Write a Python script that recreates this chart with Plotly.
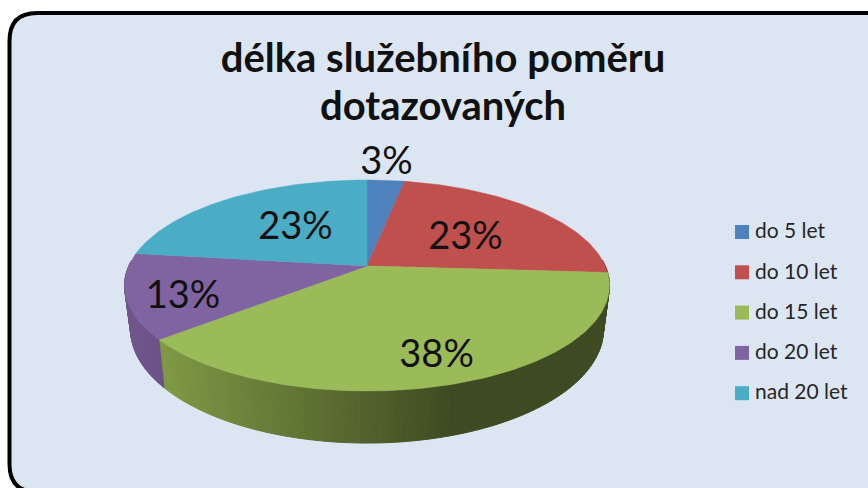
import math
import plotly.graph_objects as go

title_lines = ["délka služebního poměru", "dotazovaných"]
categories = ["do 5 let", "do 10 let", "do 15 let", "do 20 let", "nad 20 let"]
values = [3, 23, 38, 13, 23]
colors = ["#4F81BD", "#C0504D", "#9BBB59", "#8064A2", "#4BACC6"]
label_radius = [1.3, 0.58, 0.76, 0.78, 0.52]
label_nudge = [(-4, 5), (-4, 7), (5, 6), (2, 9), (5, 1)]

# projection of the tilted pie onto the canvas
CX, CY, A, B, K, DEPTH, RIM = 367, 266, 238.3, 101.9, 0.185, 42.4, 0.975
W, H = 868, 488
# key layout
KEY_X, KEY_TOP, KEY_STEP = 742, 232, 40.3


def project(frac, r=1.0, drop=False):
    t = 2 * math.pi * frac
    u, v = r * math.sin(t), -r * math.cos(t)
    w = 1 - K * v
    a = A * RIM if drop else A
    return CX + a * u / w, CY + B * v / w + (DEPTH / w if drop else 0)


def mix(c1, c2, f):
    f = max(0, min(1, f))
    return "rgb(%d,%d,%d)" % tuple(round(a + (b - a) * f) for a, b in zip(c1, c2))


def side_color(i, x):
    if i == 2:
        return mix((126, 152, 68), (62, 74, 34), (x - 165) / 290)
    if i == 3:
        return mix((112, 86, 140), (106, 80, 132), (x - 125) / 40)
    return "rgb(90,50,50)"


fig = go.Figure()
total = sum(values)
edges = [0]
for val in values:
    edges.append(edges[-1] + val / total)

# side walls, only the front half shows
for i in range(len(values)):
    n = max(2, int((edges[i + 1] - edges[i]) * 260))
    for j in range(n):
        f1 = edges[i] + (edges[i + 1] - edges[i]) * j / n
        f2 = edges[i] + (edges[i + 1] - edges[i]) * (j + 1) / n
        if math.cos(2 * math.pi * f1) > 0.05 and math.cos(2 * math.pi * f2) > 0.05:
            continue
        p = [project(f1), project(f2), project(f2, drop=True), project(f1, drop=True)]
        col = side_color(i, (p[0][0] + p[1][0]) / 2)
        fig.add_trace(go.Scatter(
            x=[q[0] for q in p] + [p[0][0]], y=[q[1] for q in p] + [p[0][1]],
            mode="lines", fill="toself", fillcolor=col, line=dict(color=col, width=1),
            showlegend=False, hoverinfo="skip"))

# top faces
for i in range(len(values)):
    n = max(12, int((edges[i + 1] - edges[i]) * 360))
    pts = [project(edges[i] + (edges[i + 1] - edges[i]) * j / n) for j in range(n + 1)]
    xs = [CX] + [q[0] for q in pts] + [CX]
    ys = [CY] + [q[1] for q in pts] + [CY]
    fig.add_trace(go.Scatter(
        x=xs, y=ys, mode="lines", fill="toself", fillcolor=colors[i],
        line=dict(color=colors[i], width=0.5), showlegend=False, hoverinfo="skip"))

# percentage labels
lx, ly, lt = [], [], []
for i, val in enumerate(values):
    x, y = project((edges[i] + edges[i + 1]) / 2, label_radius[i])
    lx.append(x + label_nudge[i][0]); ly.append(y + label_nudge[i][1]); lt.append(f"{val}%")
fig.add_trace(go.Scatter(
    x=lx, y=ly, text=lt, mode="text", textposition="middle center",
    textfont=dict(family="Lato", size=38, color="#111111"),
    showlegend=False, hoverinfo="skip"))

# key: swatch and name per category
key_y = [KEY_TOP + KEY_STEP * i for i in range(len(categories))]
fig.add_trace(go.Scatter(
    x=[KEY_X] * len(categories), y=key_y, mode="markers",
    marker=dict(symbol="square", size=14, color=colors),
    showlegend=False, hoverinfo="skip"))
fig.add_trace(go.Scatter(
    x=[KEY_X + 13] * len(categories), y=[v + 1 for v in key_y], text=categories, mode="text",
    textposition="middle right",
    textfont=dict(family="Lato", size=21, color="#262626"),
    showlegend=False, hoverinfo="skip"))

TITLE_FONT = dict(family="Lato", size=40, color="#111111", weight="bold")
fig.update_layout(
    width=W, height=H, margin=dict(l=0, r=0, t=0, b=0),
    paper_bgcolor="white", plot_bgcolor="rgba(0,0,0,0)", showlegend=False,
    xaxis=dict(range=[0, W], visible=False, fixedrange=True),
    yaxis=dict(range=[H, 0], visible=False, fixedrange=True),
    title=dict(text=title_lines[0], x=443 / W, xanchor="center", y=1 - 58 / H, yanchor="middle",
               font=TITLE_FONT),
    annotations=[dict(text=title_lines[1], x=443, y=105, xref="x", yref="y", showarrow=False,
                      xanchor="center", yanchor="middle", font=TITLE_FONT)],
    shapes=[dict(
        type="path", layer="below",
        path="M 37 13 L 900 13 L 900 492 L 37 492 Q 9.5 492 9.5 464 L 9.5 41 Q 9.5 13 37 13 Z",
        fillcolor="#DCE6F2", line=dict(color="#000000", width=4))],
)
fig.write_html("out.html", post_script="document.body.style.margin='0';",
               config={"displayModeBar": False})
